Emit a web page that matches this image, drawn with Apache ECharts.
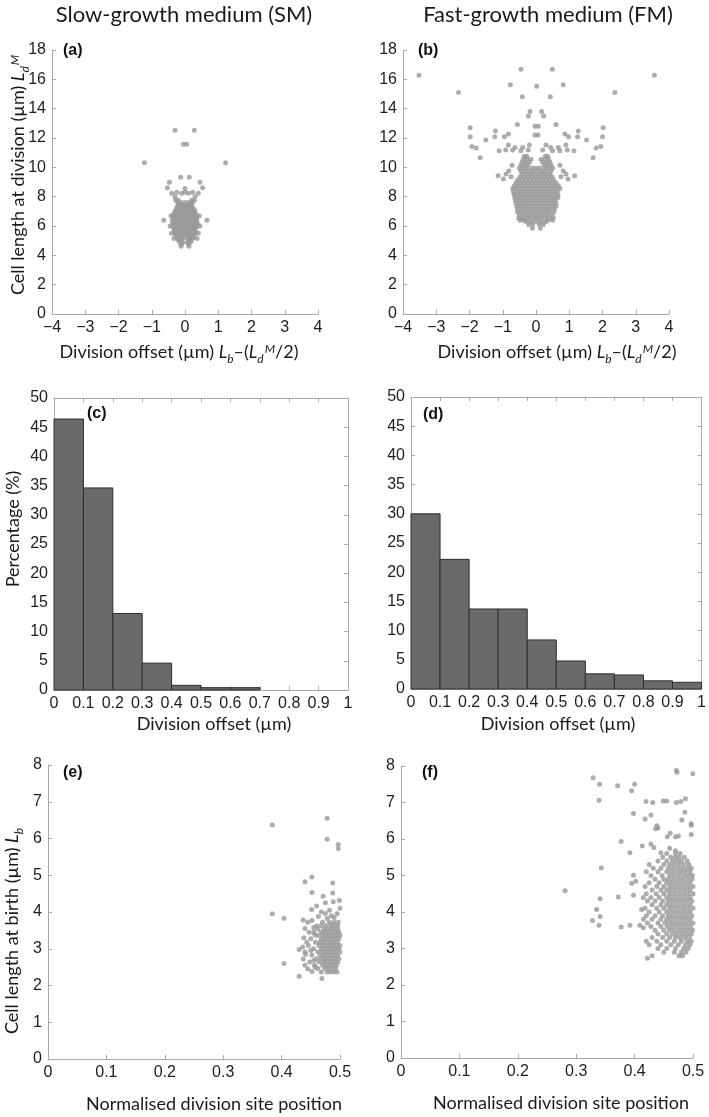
<!DOCTYPE html>
<html><head><meta charset="utf-8">
<script src="https://cdn.jsdelivr.net/npm/echarts@6/dist/echarts.min.js"></script>
<style>html,body{margin:0;padding:0;background:#fff}#c{width:709px;height:1117px}</style>
</head><body><div id="c"></div>
<script>
// ---------- DATA ----------
// (a) Slow-growth medium: division offset vs cell length at division
const slowOffsetOutliers = [
  [-0.30,12.52],[0.28,12.52],[-0.05,11.57],[0.05,11.57],[-1.22,10.32],[1.22,10.32],
  [-0.13,9.32],[0.13,9.32],[-0.47,8.98],[0.45,8.98],[-0.53,8.6],[0.53,8.6],[0,8.55],
  [-0.4,8.23],[0.4,8.23],[-0.25,8.3],[0.23,8.3],[-0.1,8.23],[0.1,8.23],[0,8.3],[-0.3,8.0],[0.3,8.0],
  [-0.64,6.4],[0.66,6.4],[-0.12,4.62],[0.12,4.62],[-0.33,5.15],[0.36,5.15],
  [-0.45,6.0],[0.45,6.0],[-0.42,6.7],[0.43,6.7],[-0.41,5.5],[0.4,5.5]
];
const slowOffsetRows = [
  [7.75,[-0.28,-0.2,0.2,0.28]],
  [7.6,[-0.22,-0.12,0,0.12,0.22]],
  [7.45,[-0.2,-0.1,0,0.1,0.2]],
  [7.3,[-0.24,-0.15,-0.06,0.03,0.12,0.21]],
  [7.15,[-0.27,-0.18,-0.09,0,0.09,0.18,0.27]],
  [7.0,[-0.3,-0.21,-0.12,-0.03,0.06,0.15,0.24,0.3]],
  [6.85,[-0.33,-0.24,-0.15,-0.06,0.03,0.12,0.21,0.3]],
  [6.7,[-0.34,-0.26,-0.17,-0.08,0,0.09,0.18,0.27,0.35]],
  [6.55,[-0.36,-0.27,-0.18,-0.09,0,0.09,0.18,0.27,0.36]],
  [6.4,[-0.38,-0.29,-0.2,-0.11,-0.02,0.07,0.16,0.25,0.34]],
  [6.25,[-0.37,-0.28,-0.19,-0.1,-0.01,0.08,0.17,0.26,0.36]],
  [6.1,[-0.36,-0.27,-0.18,-0.09,0,0.09,0.18,0.27,0.37]],
  [5.95,[-0.35,-0.26,-0.17,-0.08,0.01,0.1,0.19,0.28,0.35]],
  [5.8,[-0.33,-0.24,-0.15,-0.06,0.03,0.12,0.21,0.3]],
  [5.65,[-0.32,-0.23,-0.14,-0.05,0.04,0.13,0.22,0.31]],
  [5.5,[-0.3,-0.21,-0.12,-0.03,0.06,0.15,0.24,0.3]],
  [5.35,[-0.28,-0.19,-0.1,-0.01,0.08,0.17,0.26]],
  [5.2,[-0.24,-0.15,-0.06,0.06,0.15,0.24]],
  [5.05,[-0.2,-0.11,0.11,0.2]],
  [4.9,[-0.16,-0.07,0.07,0.16]],
  [4.78,[-0.1,0.1]]
];

// (b) Fast-growth medium: division offset vs cell length at division
const fastOffsetOutliers = [
  [-3.52,16.27],[3.56,16.27],[-2.33,15.11],[2.37,15.11],[-0.45,16.68],[0.49,16.68],
  [-0.77,15.63],[0.82,15.63],[0.02,15.52],[-0.41,14.81],[0.43,14.81],[-0.18,13.8],[0.17,13.8],
  [-0.23,13.5],[0.23,13.5],[-0.56,12.92],[0.6,12.92],[-0.03,12.8],[0.07,12.8],[-0.03,12.2],[0.06,12.2],
  [-1.98,12.7],[2.02,12.7],[-1.98,12.08],[2.0,12.08],[-1.93,11.42],[1.95,11.42],[-1.8,11.32],[1.81,11.32],
  [-1.68,10.65],[1.72,10.65],[-1.51,11.86],[1.52,11.86],[-1.22,12.47],[1.27,12.47],[-1.24,12.08],[1.25,12.08],
  [-0.95,12.09],[0.98,12.09],[-0.83,12.27],[0.87,12.27],[-1.11,11.13],[1.14,11.13],[-0.91,11.18],[0.94,11.18],
  [-0.83,11.52],[0.9,11.52],[-0.7,11.18],[0.72,11.13],[-0.63,11.36],[0.67,11.36],[-0.46,11.13],[0.5,11.13],
  [-0.4,11.36],[0.44,11.36],[-0.2,11.52],[0.3,11.52],[-0.23,11.18],[0.2,11.18],
  [-1.14,9.43],[1.16,9.43],[-0.98,9.2],[0.96,9.2]
];
const fastOffsetRows = [
  [10.75,[-0.35,-0.28,0.28,0.35]],
  [10.55,[-0.38,-0.27,-0.15,0.15,0.27,0.38]],
  [10.35,[-0.42,-0.32,-0.2,0.2,0.32,0.42]],
  [10.15,[-0.72,-0.45,-0.35,-0.25,0.25,0.35,0.45,0.72]],
  [9.95,[-0.5,-0.4,-0.28,-0.12,0,0.12,0.28,0.4,0.5]],
  [9.75,[-0.82,-0.45,-0.33,-0.2,-0.08,0.05,0.18,0.3,0.45,0.82]],
  [9.55,[-0.9,-0.42,-0.3,-0.18,-0.06,0.06,0.18,0.3,0.42,0.9]],
  [9.35,[-0.75,-0.48,-0.36,-0.24,-0.12,0,0.12,0.24,0.36,0.48,0.75]],
  [9.15,[-0.55,-0.43,-0.31,-0.19,-0.07,0.05,0.17,0.29,0.41,0.53]],
  [8.95,[-0.6,-0.48,-0.36,-0.24,-0.12,0,0.12,0.24,0.36,0.48,0.6]],
  [8.75,[-0.65,-0.53,-0.41,-0.29,-0.17,-0.05,0.07,0.19,0.31,0.43,0.55,0.67]],
  [8.55,[-0.7,-0.58,-0.46,-0.34,-0.22,-0.1,0.02,0.14,0.26,0.38,0.5,0.62,0.72]],
  [8.35,[-0.68,-0.56,-0.44,-0.32,-0.2,-0.08,0.04,0.16,0.28,0.4,0.52,0.64]],
  [8.15,[-0.66,-0.54,-0.42,-0.3,-0.18,-0.06,0.06,0.18,0.3,0.42,0.54,0.66]],
  [7.95,[-0.64,-0.52,-0.4,-0.28,-0.16,-0.04,0.08,0.2,0.32,0.44,0.56,0.66]],
  [7.75,[-0.62,-0.5,-0.38,-0.26,-0.14,-0.02,0.1,0.22,0.34,0.46,0.58]],
  [7.55,[-0.6,-0.48,-0.36,-0.24,-0.12,0,0.12,0.24,0.36,0.48,0.6]],
  [7.35,[-0.58,-0.46,-0.34,-0.22,-0.1,0.02,0.14,0.26,0.38,0.5,0.6]],
  [7.15,[-0.55,-0.43,-0.31,-0.19,-0.07,0.05,0.17,0.29,0.41,0.55]],
  [6.95,[-0.56,-0.44,-0.32,-0.2,-0.08,0.04,0.16,0.28,0.4,0.54]],
  [6.75,[-0.5,-0.38,-0.26,-0.14,-0.02,0.1,0.22,0.34,0.48]],
  [6.55,[-0.52,-0.4,-0.28,-0.16,-0.04,0.06,0.16,0.28,0.4,0.52]],
  [6.4,[-0.48,-0.36,0.36,0.5]],
  [6.3,[-0.3,-0.18,-0.06,0.06,0.18,0.3]],
  [6.1,[-0.22,-0.1,0.1,0.22]],
  [5.85,[-0.11,0.13]]
];

// (c),(d) histograms of division offset (percentage per 0.1 µm bin)
const binEdges = [0,0.1,0.2,0.3,0.4,0.5,0.6,0.7,0.8,0.9,1.0];
const slowHistPct = [46.4,34.6,13.1,4.6,0.8,0.4,0.4,0,0,0];
const fastHistPct = [30.0,22.2,13.7,13.7,8.4,4.8,2.6,2.4,1.4,1.15];

// (e) Slow-growth: normalised division site position vs length at birth
const slowBirthOutliers = [
  [0.384,6.37],[0.478,6.55],[0.478,5.98],[0.497,5.84],[0.497,5.73],[0.452,4.95],[0.44,4.82],
  [0.4875,4.79],[0.452,4.53],[0.4875,4.52],[0.384,3.95],[0.404,3.83],[0.404,2.6],[0.43,2.25],[0.469,2.19],
  [0.471,4.43],[0.4885,4.28],[0.499,4.31],[0.5,4.1],[0.46,4.16],[0.475,4.25],[0.4515,4.07],[0.468,4.0],
  [0.475,3.96],[0.485,3.9],[0.49,3.85],[0.463,3.88],[0.478,3.82],[0.495,3.95],[0.482,4.05],
  [0.437,3.78],[0.445,3.72],[0.452,3.77],[0.44,3.55],[0.447,3.45],[0.438,3.3],[0.443,3.18],[0.436,3.05],
  [0.43,2.98],[0.441,2.85],[0.437,2.72],[0.44,2.55],[0.445,2.45],[0.452,2.38],[0.458,2.5],[0.455,2.68],
  [0.45,2.95],[0.457,3.38],[0.46,3.62],[0.455,3.58]
];
const slowBirthRows = [
  [3.72,[0.47,0.482,0.49,0.497]],
  [3.63,[0.468,0.476,0.484,0.49,0.496]],
  [3.54,[0.462,0.472,0.478,0.484,0.49,0.496]],
  [3.45,[0.455,0.468,0.474,0.48,0.486,0.492,0.498]],
  [3.36,[0.462,0.47,0.476,0.482,0.488,0.494,0.5]],
  [3.27,[0.45,0.468,0.474,0.48,0.486,0.492,0.498]],
  [3.18,[0.458,0.466,0.472,0.478,0.484,0.49,0.496]],
  [3.09,[0.446,0.464,0.47,0.476,0.482,0.488,0.494,0.5]],
  [3.0,[0.455,0.468,0.474,0.48,0.486,0.492,0.498]],
  [2.91,[0.44,0.462,0.47,0.476,0.482,0.488,0.494,0.5]],
  [2.82,[0.452,0.466,0.472,0.478,0.484,0.49,0.496]],
  [2.73,[0.46,0.468,0.474,0.48,0.486,0.492,0.498]],
  [2.64,[0.448,0.464,0.472,0.478,0.484,0.49,0.496]],
  [2.55,[0.456,0.47,0.476,0.482,0.488,0.494]],
  [2.46,[0.462,0.474,0.48,0.486,0.492]],
  [2.37,[0.468,0.478,0.484,0.49,0.495]]
];

// (f) Fast-growth: normalised division site position vs length at birth
const fastBirthOutliers = [
  [0.281,4.58],[0.329,7.68],[0.34,7.5],[0.339,7.06],[0.371,7.46],[0.4,7.5],[0.395,7.32],
  [0.4715,7.88],[0.4725,7.83],[0.4995,7.79],[0.4195,7.03],[0.431,7.0],[0.449,7.04],[0.455,7.04],
  [0.4715,7.0],[0.479,7.03],[0.487,7.1],[0.486,6.73],[0.398,6.7],[0.418,6.55],[0.428,6.66],
  [0.481,6.52],[0.497,6.38],[0.497,6.12],[0.497,6.42],[0.438,6.36],[0.44,6.3],[0.436,6.28],
  [0.377,5.93],[0.413,5.81],[0.428,5.86],[0.433,5.77],[0.456,6.06],[0.461,6.16],[0.47,6.06],[0.475,6.08],
  [0.392,5.62],[0.343,5.21],[0.341,4.36],[0.372,4.41],[0.395,4.79],[0.398,4.46],[0.335,4.07],
  [0.341,3.88],[0.328,3.77],[0.339,3.64],[0.377,3.59],[0.392,3.64],[0.409,3.64],[0.415,3.57],
  [0.412,4.07],[0.398,5.01],[0.402,4.84],[0.46,5.75],[0.47,5.68],[0.445,5.62]
];
const fastBirthRows = [
  [5.6,[0.455,0.47,0.478]],
  [5.5,[0.448,0.462,0.47,0.476,0.485]],
  [5.4,[0.44,0.455,0.465,0.473,0.48,0.49]],
  [5.3,[0.425,0.45,0.46,0.468,0.476,0.484,0.493]],
  [5.2,[0.432,0.445,0.458,0.466,0.474,0.482,0.49,0.497]],
  [5.1,[0.42,0.44,0.455,0.463,0.471,0.479,0.487,0.495]],
  [5.0,[0.428,0.447,0.46,0.468,0.476,0.484,0.492,0.499]],
  [4.9,[0.435,0.45,0.458,0.466,0.474,0.482,0.49,0.498]],
  [4.8,[0.425,0.442,0.455,0.463,0.471,0.479,0.487,0.495]],
  [4.7,[0.418,0.438,0.45,0.46,0.468,0.476,0.484,0.492,0.5]],
  [4.6,[0.43,0.445,0.455,0.463,0.471,0.479,0.487,0.495]],
  [4.5,[0.42,0.437,0.45,0.46,0.468,0.476,0.484,0.492,0.5]],
  [4.4,[0.415,0.428,0.442,0.455,0.463,0.471,0.479,0.487,0.495]],
  [4.3,[0.422,0.435,0.448,0.458,0.466,0.474,0.482,0.49,0.498]],
  [4.2,[0.43,0.445,0.455,0.463,0.471,0.479,0.487,0.495]],
  [4.1,[0.418,0.438,0.45,0.46,0.468,0.476,0.484,0.492,0.5]],
  [4.0,[0.425,0.442,0.455,0.463,0.471,0.479,0.487,0.495]],
  [3.9,[0.42,0.435,0.448,0.458,0.466,0.474,0.482,0.49,0.498]],
  [3.8,[0.415,0.43,0.445,0.455,0.463,0.471,0.479,0.487,0.495]],
  [3.7,[0.422,0.44,0.452,0.46,0.468,0.476,0.484,0.492,0.5]],
  [3.6,[0.428,0.445,0.456,0.464,0.472,0.48,0.488,0.496]],
  [3.5,[0.435,0.45,0.46,0.468,0.476,0.484,0.492,0.499]],
  [3.4,[0.44,0.455,0.465,0.473,0.481,0.489,0.497]],
  [3.3,[0.43,0.448,0.46,0.47,0.478,0.486,0.494]],
  [3.2,[0.42,0.438,0.455,0.468,0.48,0.49,0.497]],
  [3.1,[0.425,0.445,0.462,0.475,0.487,0.495]],
  [3.0,[0.44,0.455,0.47,0.484,0.492]],
  [2.9,[0.45,0.468,0.48,0.488]],
  [2.8,[0.43,0.476,0.482]],
  [2.73,[0.422]]
];

// Tick settings
const offsetTicks = {min:-4, max:4, interval:1};
const lengthDivTicks = {min:0, max:18, interval:2};
const histXTicks = {min:0, max:1, interval:0.1};
const histYTicks = {min:0, max:50, interval:5};
const siteXTicks = {min:0, max:0.5, interval:0.1};
const birthYTicks = {min:0, max:8, interval:1};

// ---------- BUILD ----------
function rowsToPoints(rows){ const out=[]; rows.forEach(r=>r[1].forEach(x=>out.push([x,r[0]]))); return out; }
const ptsA = slowOffsetOutliers.concat(rowsToPoints(slowOffsetRows));
const ptsB = fastOffsetOutliers.concat(rowsToPoints(fastOffsetRows));
const ptsE = slowBirthOutliers.concat(rowsToPoints(slowBirthRows));
const ptsF = fastBirthOutliers.concat(rowsToPoints(fastBirthRows));
const histC = slowHistPct.map((v,i)=>[binEdges[i],binEdges[i+1],v]);
const histD = fastHistPct.map((v,i)=>[binEdges[i],binEdges[i+1],v]);

const AX='#a9a9a9', LBL='#1e1e1e', TICKFONT='Liberation Sans', TFONT='Lato';
const grids = [
  {left:52, top:50, width:266, height:264},
  {left:403, top:50, width:266, height:264},
  {left:54, top:398, width:294, height:292},
  {left:411, top:397, width:293, height:292},
  {left:48, top:765, width:292, height:294},
  {left:401, top:766, width:292, height:292}
];
const minusFmt = v => v<0 ? '\u2212'+(-v) : String(v);
const decFmt = v => (v===0||v===1) ? String(v) : v.toFixed(1);
function axis(kind, gi, ticks, fmt, opts){
  opts = opts||{};
  return {
    type:'value', gridIndex:gi, min:ticks.min, max:ticks.max, interval:ticks.interval,
    position: opts.position || (kind==='x' ? 'bottom' : 'left'),
    axisLine:{show:true, onZero:false, lineStyle:{color:AX, width:1}},
    axisTick:{show:true, inside:true, length:4, lineStyle:{color:AX}},
    axisLabel:{show: !opts.noLabel, color:LBL, fontFamily:TICKFONT, fontSize:16, margin:6, formatter: fmt, showMinLabel:true, showMaxLabel:true},
    splitLine:{show:false}
  };
}
const xAxes = [
  axis('x',0,offsetTicks,minusFmt),
  axis('x',1,offsetTicks,minusFmt),
  axis('x',2,histXTicks,decFmt),
  axis('x',3,histXTicks,decFmt),
  axis('x',4,siteXTicks,decFmt),
  axis('x',5,siteXTicks,decFmt),
  axis('x',2,histXTicks,decFmt,{position:'top',noLabel:true}),
  axis('x',3,histXTicks,decFmt,{position:'top',noLabel:true})
];
const yAxes = [
  axis('y',0,lengthDivTicks,String),
  axis('y',1,lengthDivTicks,String),
  axis('y',2,histYTicks,String),
  axis('y',3,histYTicks,String),
  axis('y',4,birthYTicks,String),
  axis('y',5,birthYTicks,String),
  axis('y',2,histYTicks,String,{position:'right',noLabel:true}),
  axis('y',3,histYTicks,String,{position:'right',noLabel:true})
];

function scatter(i, data){
  return {type:'scatter', xAxisIndex:i, yAxisIndex:i, data, symbol:'circle', symbolSize:5,
    itemStyle:{color:'#989898'}, silent:true, z:3};
}
function hist(i, data){
  return {type:'custom', xAxisIndex:i, yAxisIndex:i, data, encode:{x:[0,1], y:2}, silent:true, z:2,
    renderItem:(p, api)=>{
      const v = api.value(2);
      if (!v) return null;
      const a = api.coord([api.value(0), v]);
      const b = api.coord([api.value(1), 0]);
      return {type:'rect', shape:{x:a[0], y:a[1], width:b[0]-a[0], height:b[1]-a[1]},
        style:{fill:'#6a6a6a', stroke:'#2e2e2e', lineWidth:1}};
    }};
}

function rich(fs){
  const s = Math.round(fs*0.68);
  return {
    n:{fontFamily:TFONT, fontSize:fs, fill:'#1a1a1a', verticalAlign:'top'},
    i:{fontFamily:TFONT, fontSize:fs, fontStyle:'italic', fill:'#1a1a1a', verticalAlign:'top'},
    sub:{fontFamily:TFONT, fontSize:s, fontStyle:'italic', fill:'#1a1a1a', verticalAlign:'top', padding:[Math.round(fs*0.55),0,0,0]},
    sup:{fontFamily:TFONT, fontSize:s, fontStyle:'italic', fill:'#1a1a1a', verticalAlign:'top', padding:[0,0,0,1]}
  };
}
function txt(x, y, text, fs, rot){
  return {type:'text', x, y, rotation: rot||0, silent:true,
    style:{text, rich:rich(fs), align:'center', verticalAlign:'middle', fill:'#1a1a1a', font: fs+'px '+TFONT}};
}
function panelLabel(x, y, t){
  return {type:'text', x, y, silent:true, style:{text:t, font:'bold 16px "Liberation Sans"', fill:'#111', verticalAlign:'middle', align:'left'}};
}
const offsetTitle = '{n|Division offset (\u00b5m) }{i|L}{sub|b}{n|\u2013(}{i|L}{sub|d}{sup|M}{n|/2)}';
const graphics = [
  txt(184, 15, '{n|Slow-growth medium (SM)}', 22),
  txt(548, 15, '{n|Fast-growth medium (FM)}', 22),
  txt(20, 175, '{n|Cell length at division (\u00b5m) }{i|L}{sub|d}{sup|M}', 18, Math.PI/2),
  txt(179, 354, offsetTitle, 18),
  txt(557, 354, offsetTitle, 18),
  txt(13, 529, '{n|Percentage (%)}', 18, Math.PI/2),
  txt(214, 724, '{n|Division offset (\u00b5m)}', 18),
  txt(558, 724, '{n|Division offset (\u00b5m)}', 18),
  txt(14, 931, '{n|Cell length at birth (\u00b5m) }{i|L}{sub|b}', 18, Math.PI/2),
  txt(214, 1104, '{n|Normalised division site position}', 18),
  txt(561, 1103, '{n|Normalised division site position}', 18),
  panelLabel(63, 51, '(a)'),
  panelLabel(418, 51, '(b)'),
  panelLabel(87, 414, '(c)'),
  panelLabel(423, 415, '(d)'),
  panelLabel(63, 773, '(e)'),
  panelLabel(422, 773, '(f)')
];

const chart = echarts.init(document.getElementById('c'), null, {renderer:'canvas'});
chart.setOption({
  animation:false,
  backgroundColor:'#ffffff',
  grid: grids,
  xAxis: xAxes,
  yAxis: yAxes,
  series: [scatter(0, ptsA), scatter(1, ptsB), hist(2, histC), hist(3, histD), scatter(4, ptsE), scatter(5, ptsF)],
  graphic: graphics
});
</script></body></html>
